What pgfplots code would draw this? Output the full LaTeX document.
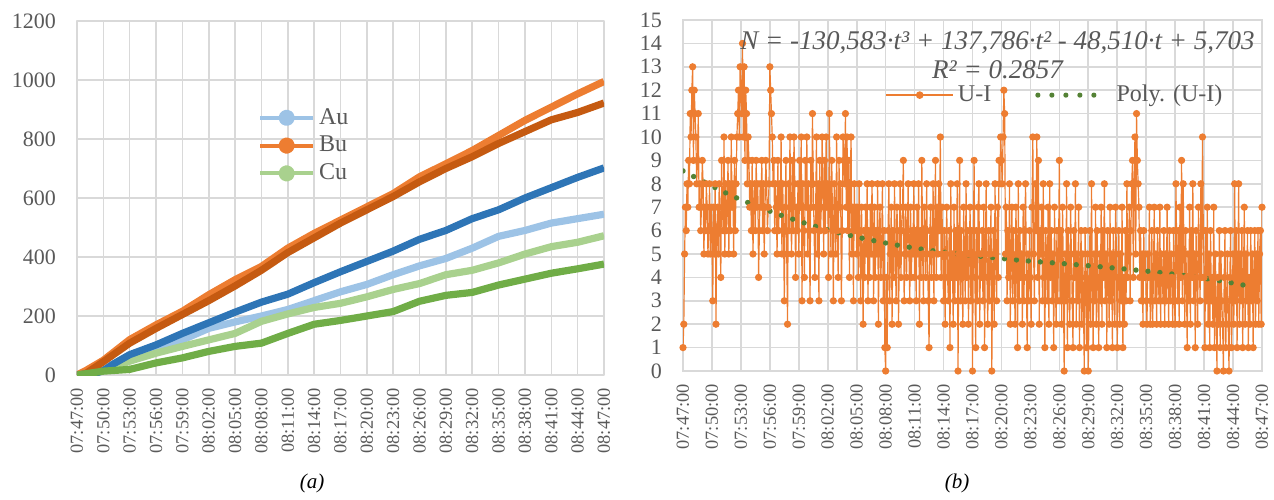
\documentclass[border=0pt]{standalone}
\usepackage{fontspec}
\setmainfont{Liberation Serif}
\usepackage{pgfplots}
\pgfplotsset{compat=1.18}
\usepackage{pgfplotstable}
\definecolor{txt}{HTML}{595959}
\definecolor{grd}{HTML}{D9D9D9}
\definecolor{lblue}{HTML}{9DC3E6}
\definecolor{lorange}{HTML}{ED7D31}
\definecolor{lgreen}{HTML}{A9D18E}
\definecolor{dblue}{HTML}{2E75B6}
\definecolor{dorange}{HTML}{C55A11}
\definecolor{dgreen}{HTML}{70AD47}
\definecolor{trend}{HTML}{548235}

\pgfplotstableread[row sep=\\]{
y\\
1\\2\\5\\7\\6\\8\\7\\9\\8\\11\\10\\12\\13\\9\\12\\11\\10\\8\\9\\11\\7\\8\\6\\7\\9\\8\\5\\7\\6\\8\\7\\5\\6\\8\\5\\7\\
6\\3\\7\\5\\8\\2\\6\\7\\5\\8\\6\\4\\9\\7\\6\\10\\5\\8\\6\\7\\9\\5\\8\\6\\10\\7\\8\\5\\9\\6\\8\\10\\11\\12\\10\\13\\
12\\11\\14\\10\\13\\9\\12\\11\\8\\10\\9\\7\\8\\6\\9\\5\\7\\8\\6\\9\\7\\8\\4\\6\\8\\7\\9\\6\\8\\5\\7\\9\\8\\6\\7\\8\\
13\\12\\11\\10\\8\\9\\6\\8\\7\\5\\9\\6\\8\\7\\10\\5\\8\\6\\3\\7\\9\\5\\2\\8\\6\\10\\7\\5\\9\\6\\10\\8\\4\\7\\6\\8\\
5\\9\\7\\10\\3\\8\\6\\4\\9\\7\\10\\5\\8\\6\\3\\9\\7\\11\\8\\6\\4\\7\\10\\5\\8\\3\\9\\6\\7\\10\\8\\5\\9\\6\\10\\7\\
8\\4\\11\\7\\5\\9\\6\\3\\8\\7\\5\\10\\6\\4\\9\\7\\8\\3\\6\\10\\9\\8\\11\\7\\10\\6\\9\\4\\8\\10\\5\\7\\3\\8\\6\\7\\
5\\7\\4\\8\\6\\3\\7\\5\\2\\6\\4\\7\\5\\8\\3\\6\\4\\7\\5\\8\\6\\3\\7\\4\\6\\5\\8\\2\\6\\7\\4\\5\\8\\3\\6\\1\\
0\\4\\1\\6\\8\\3\\5\\7\\2\\6\\4\\8\\5\\3\\7\\6\\2\\5\\8\\4\\6\\7\\9\\3\\5\\7\\4\\6\\8\\5\\3\\7\\4\\6\\5\\8\\
4\\6\\3\\7\\5\\8\\2\\6\\4\\9\\5\\3\\7\\6\\4\\8\\5\\3\\1\\6\\7\\4\\5\\8\\3\\6\\9\\4\\7\\5\\8\\6\\10\\4\\7\\5\\
3\\6\\2\\5\\7\\4\\3\\6\\1\\8\\4\\5\\2\\7\\3\\6\\4\\8\\0\\5\\9\\3\\6\\4\\2\\7\\5\\3\\8\\4\\6\\2\\5\\7\\3\\6\\
0\\5\\9\\4\\1\\6\\3\\7\\8\\2\\5\\4\\6\\3\\7\\1\\5\\8\\4\\2\\6\\3\\5\\7\\0\\4\\6\\2\\8\\5\\3\\7\\4\\9\\8\\10\\
9\\8\\10\\12\\11\\5\\7\\3\\6\\4\\8\\2\\5\\7\\3\\6\\4\\2\\7\\5\\1\\8\\3\\6\\4\\5\\2\\7\\3\\6\\8\\4\\1\\5\\3\\6\\
4\\2\\7\\10\\5\\3\\8\\6\\10\\4\\9\\2\\6\\5\\7\\3\\8\\4\\1\\6\\5\\3\\7\\2\\8\\4\\6\\3\\5\\1\\7\\4\\2\\6\\3\\5\\
9\\3\\6\\2\\7\\4\\0\\5\\3\\8\\1\\6\\4\\2\\7\\5\\3\\1\\6\\4\\8\\2\\5\\3\\7\\1\\4\\6\\2\\5\\3\\0\\6\\4\\1\\5\\
0\\3\\6\\2\\8\\4\\1\\5\\3\\7\\2\\6\\4\\1\\5\\3\\7\\2\\6\\4\\8\\3\\5\\1\\6\\4\\2\\7\\3\\5\\1\\6\\4\\2\\7\\5\\
1\\4\\6\\2\\5\\3\\7\\1\\4\\2\\6\\3\\8\\4\\5\\7\\3\\6\\8\\9\\4\\8\\10\\5\\11\\9\\8\\7\\4\\6\\3\\5\\2\\6\\4\\5\\
3\\2\\5\\4\\7\\2\\3\\6\\2\\4\\7\\3\\5\\2\\6\\4\\3\\7\\2\\5\\4\\3\\6\\2\\5\\3\\7\\4\\2\\6\\3\\5\\4\\2\\6\\3\\
2\\8\\5\\3\\6\\2\\7\\4\\9\\3\\8\\5\\2\\6\\4\\1\\5\\3\\7\\2\\6\\4\\8\\3\\5\\1\\6\\4\\2\\7\\5\\3\\8\\4\\10\\6\\
4\\1\\6\\3\\7\\2\\5\\1\\6\\3\\4\\2\\7\\1\\5\\3\\0\\4\\2\\6\\1\\5\\3\\2\\0\\4\\6\\1\\3\\5\\2\\0\\4\\6\\1\\3\\
5\\2\\8\\3\\6\\1\\4\\8\\2\\5\\3\\6\\1\\4\\7\\2\\5\\3\\6\\1\\4\\2\\6\\3\\5\\1\\4\\6\\2\\5\\3\\6\\2\\5\\6\\2\\
7\\
}\uidata

\pgfplotsset{
  excel/.style={
    scale only axis,
    axis line style={draw=grd, line width=0.8pt},
    grid=major,
    major grid style={draw=grd, line width=0.8pt},
    major tick length=0pt,
    tick label style={text=txt},
    yticklabel style={font=\fontsize{11}{13}\selectfont},
    xticklabel style={font=\fontsize{9.2}{11}\selectfont, rotate=90, anchor=east},
    /pgf/number format/assume math mode=true,
    /pgf/number format/1000 sep={},
    xticklabel shift=3pt,
    yticklabel shift=7pt,
    xticklabels={07:47:00,07:50:00,07:53:00,07:56:00,07:59:00,08:02:00,08:05:00,08:08:00,08:11:00,08:14:00,08:17:00,08:20:00,08:23:00,08:26:00,08:29:00,08:32:00,08:35:00,08:38:00,08:41:00,08:44:00,08:47:00},
  }
}

\begin{document}
\begin{tikzpicture}
\path[use as bounding box] (0,0) rectangle (637pt,249.5pt);

% ---------- (a) ----------
\begin{axis}[excel,
  at={(38.5pt,62pt)}, anchor=south west,
  width=263.5pt, height=177pt,
  xmin=0, xmax=60, ymin=0, ymax=1200,
  xtick={0,3,...,60},
  ytick={0,200,...,1200},
  legend style={draw=none, fill=none, inner sep=0pt,
    font=\fontsize{12}{14}\selectfont, text=txt,
    at={(0.343,0.648)}, anchor=west, row sep=0.5pt,
    legend cell align=left},
  legend image code/.code={
    \draw[line width=2pt] (0pt,0pt) -- (26.5pt,0pt);
    \fill (13.25pt,0pt) circle (2.3pt);},
  line join=round,
]
\addplot[lblue, line width=3.6pt] coordinates {(0,0) (1,3) (2,8) (3,15) (6,55) (9,86) (12,119) (15,158) (18,180) (21,200) (24,222) (27,252) (30,282) (33,307) (36,340) (39,370) (42,395) (45,430) (48,470) (51,490) (54,515) (57,530) (60,545)};
\addplot[lorange, line width=3.6pt] coordinates {(0,0) (1,15) (3,50) (6,120) (9,170) (12,216) (15,272) (18,323) (21,368) (24,430) (27,480) (30,525) (33,570) (36,615) (39,672) (42,716) (45,761) (48,812) (51,863) (54,908) (57,953) (60,995)};
\addplot[lgreen, line width=3.6pt] coordinates {(0,0) (3,15) (6,47) (9,74) (12,97) (15,119) (18,141) (21,182) (24,207) (27,229) (30,243) (33,265) (36,290) (39,310) (42,340) (45,355) (48,380) (51,410) (54,435) (57,450) (60,472)};
\legend{Au,Bu,Cu}
\addplot[dblue, line width=3.6pt, forget plot] coordinates {(0,0) (2,5) (3,15) (4,35) (6,69) (9,102) (12,141) (15,177) (18,213) (21,247) (24,274) (27,313) (30,350) (33,385) (36,420) (39,460) (42,490) (45,530) (48,560) (51,600) (54,635) (57,670) (60,702)};
\addplot[dorange, line width=3.6pt, forget plot] coordinates {(0,0) (1,5) (3,45) (6,108) (9,158) (12,205) (15,252) (18,302) (21,355) (24,415) (27,465) (30,515) (33,560) (36,605) (39,655) (42,700) (45,740) (48,785) (51,825) (54,865) (57,890) (60,922)};
\addplot[dgreen, line width=3.6pt, forget plot] coordinates {(0,0) (3,13) (6,19) (9,41) (12,58) (15,80) (18,97) (21,108) (24,141) (27,172) (30,185) (33,200) (36,215) (39,250) (42,270) (45,280) (48,305) (51,325) (54,345) (57,360) (60,376)};
\end{axis}

% ---------- (b) ----------
\begin{axis}[excel,
  at={(341.5pt,64pt)}, anchor=south west,
  width=289.5pt, height=175.5pt,
  xmin=0, xmax=720, ymin=0, ymax=15,
  xtick={0,36,...,720},
  ytick={0,1,...,15},
  legend style={draw=none, fill=none, inner sep=0pt,
    font=\fontsize{12}{14}\selectfont, text=txt,
    at={(0.349,0.786)}, anchor=west,
    legend columns=2,
    /tikz/every even column/.append style={column sep=20pt}},
]
\addplot[lorange, line width=0.6pt, mark=*, mark size=1.5pt,
  legend image code/.code={
    \draw[line width=0.75pt] (0pt,0pt) -- (33.5pt,0pt);
    \fill (16.75pt,0pt) circle (1.6pt);}]
  table[x expr=\coordindex, y=y] {\uidata};
\addlegendentry{U-I}
\addplot[trend, line width=2.7pt, line cap=round, dash pattern=on 0pt off 6pt, smooth,
  legend image code/.code={
    \draw[line width=2.6pt, line cap=round, dash pattern=on 0pt off 7pt] (0pt,0pt) -- (28.5pt,0pt);
    \path (36pt,0pt);}]
  coordinates {(0,8.55) (60,7.50) (120,6.68) (180,6.03) (240,5.55) (300,5.19) (360,4.94) (420,4.73) (480,4.57) (540,4.39) (600,4.18) (660,3.90) (708,3.60)};
\addlegendentry{Poly. (U-I)}
\end{axis}

\node[text=txt, font=\itshape\fontsize{13.5}{15}\selectfont] at (498.75pt,228pt)
  {N = -130,583·t³ + 137,786·t² - 48,510·t + 5,703};
\node[text=txt, font=\itshape\fontsize{13.5}{15}\selectfont] at (498.75pt,214.5pt)
  {R² = 0.2857};

\node[font=\itshape\fontsize{10.5}{12}\selectfont] at (156pt,8pt) {(a)};
\node[font=\itshape\fontsize{10.5}{12}\selectfont] at (478.5pt,8pt) {(b)};
\end{tikzpicture}
\end{document}
